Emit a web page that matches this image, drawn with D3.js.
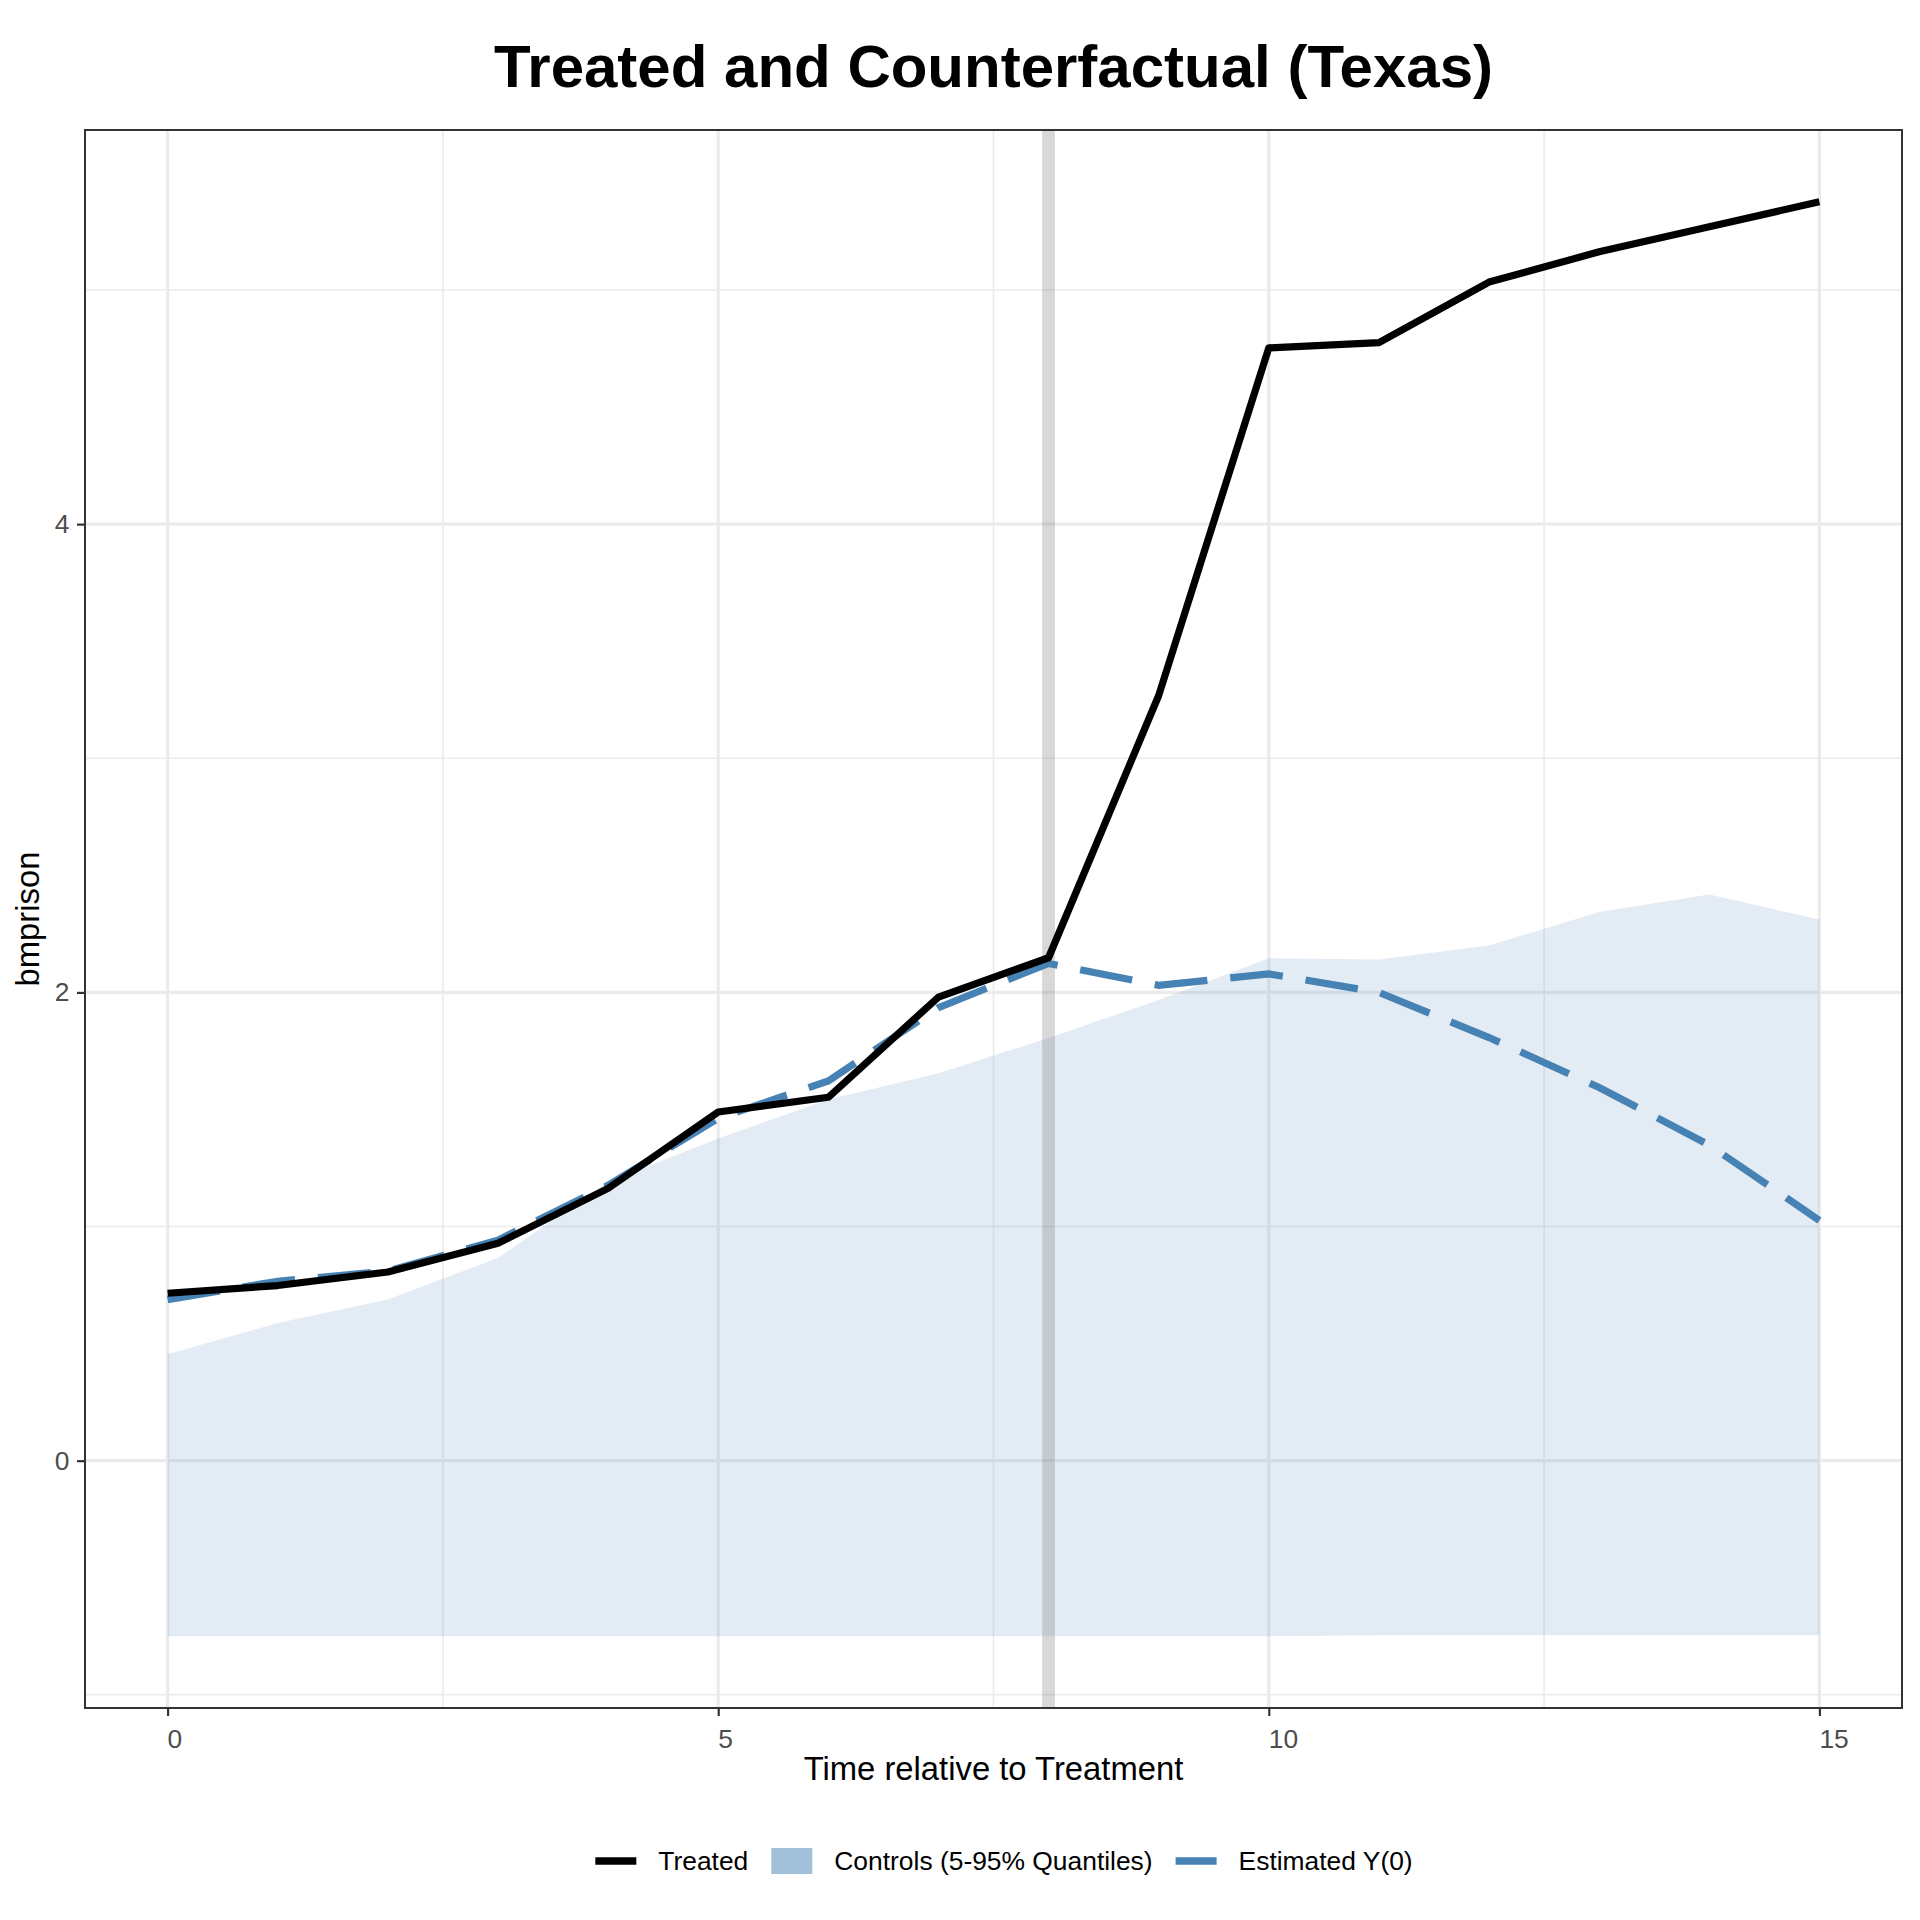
<!DOCTYPE html>
<html>
<head>
<meta charset="utf-8">
<script src="https://cdn.jsdelivr.net/npm/d3@7"></script>
<style>
    body { margin: 0; background: #fff; }
    text { font-family: 'Liberation Sans', Arial, sans-serif; }
</style>
</head>
<body>
<div id="chart"></div>
<script>
'use strict';

/*
Data
 */
const times = [0, 1, 2, 3, 4, 5, 6, 7, 8, 9, 10, 11, 12, 13, 14, 15];
const treated = [0.715, 0.748, 0.806, 0.929, 1.163, 1.489, 1.552, 1.980, 2.148, 3.268, 4.753, 4.775, 5.034, 5.163, 5.270, 5.377];
const estimatedY0 = [0.688, 0.766, 0.810, 0.942, 1.176, 1.462, 1.622, 1.935, 2.124, 2.030, 2.079, 2.000, 1.807, 1.594, 1.348, 1.026];
const controlsHigh = [0.455, 0.588, 0.688, 0.866, 1.190, 1.376, 1.543, 1.655, 1.805, 1.968, 2.146, 2.140, 2.200, 2.343, 2.418, 2.311];
const controlsLow = [-0.750, -0.750, -0.750, -0.750, -0.750, -0.750, -0.750, -0.750, -0.750, -0.750, -0.750, -0.746, -0.746, -0.746, -0.746, -0.746];
const treatmentTime = 8;
const xTicks = [0, 5, 10, 15];
const xMinorTicks = [2.5, 7.5, 12.5];
const yTicks = [0, 2, 4];
const yMinorTicks = [-1, 1, 3, 5];
const legendLabels = ['Treated', 'Controls (5-95% Quantiles)', 'Estimated Y(0)'];

/*
Chart
 */
class CounterfactualChart {

    // Configs
    svgW = 1920;
    svgH = 1920;
    panel = {left: 85, right: 1902, top: 130, bottom: 1708};
    blue = 'steelblue';
    lineW = 7.2;
    tickFont = '26.4px';
    titleFont = '32.8px';

    constructor(_target) {
        this.target = _target;
        this.init();
    }

    init() {
        const vis = this;

        vis.svg = d3.select(`#${vis.target}`)
            .append('svg')
            .attr('width', vis.svgW)
            .attr('height', vis.svgH);

        vis.rows = times.map((t, i) => ({
            t: t,
            treated: treated[i],
            est: estimatedY0[i],
            hi: controlsHigh[i],
            lo: controlsLow[i]
        }));

        // ggplot style 5% expansion
        const xExt = d3.extent(times);
        const xPad = (xExt[1] - xExt[0]) * 0.05;
        const yMin = d3.min(controlsLow);
        const yMax = d3.max([...treated, ...estimatedY0, ...controlsHigh]);
        const yPad = (yMax - yMin) * 0.05;

        vis.xScale = d3.scaleLinear()
            .domain([xExt[0] - xPad, xExt[1] + xPad])
            .range([vis.panel.left, vis.panel.right]);
        vis.yScale = d3.scaleLinear()
            .domain([yMin - yPad, yMax + yPad])
            .range([vis.panel.bottom, vis.panel.top]);

        vis.render();
    }

    render() {
        const vis = this;
        const p = vis.panel;
        const x = vis.xScale;
        const y = vis.yScale;

        // Grid
        const gridG = vis.svg.append('g').attr('class', 'grid');
        gridG.selectAll('.vMinor').data(xMinorTicks).join('line')
            .attr('x1', d => x(d)).attr('x2', d => x(d))
            .attr('y1', p.top).attr('y2', p.bottom)
            .attr('stroke', '#ebebeb').attr('stroke-width', 1.6);
        gridG.selectAll('.hMinor').data(yMinorTicks).join('line')
            .attr('x1', p.left).attr('x2', p.right)
            .attr('y1', d => y(d)).attr('y2', d => y(d))
            .attr('stroke', '#ebebeb').attr('stroke-width', 1.6);
        gridG.selectAll('.vMajor').data(xTicks).join('line')
            .attr('x1', d => x(d)).attr('x2', d => x(d))
            .attr('y1', p.top).attr('y2', p.bottom)
            .attr('stroke', '#ebebeb').attr('stroke-width', 3.2);
        gridG.selectAll('.hMajor').data(yTicks).join('line')
            .attr('x1', p.left).attr('x2', p.right)
            .attr('y1', d => y(d)).attr('y2', d => y(d))
            .attr('stroke', '#ebebeb').attr('stroke-width', 3.2);

        // Ribbon of controls
        const area = d3.area()
            .x(d => x(d.t))
            .y0(d => y(d.lo))
            .y1(d => y(d.hi));
        vis.svg.append('path')
            .datum(vis.rows)
            .attr('d', area)
            .attr('fill', vis.blue)
            .attr('fill-opacity', 0.15);

        // Treatment marker
        vis.svg.append('line')
            .attr('x1', x(treatmentTime)).attr('x2', x(treatmentTime))
            .attr('y1', p.top).attr('y2', p.bottom)
            .attr('stroke', '#7f7f7f')
            .attr('stroke-opacity', 0.3)
            .attr('stroke-width', 12.8);

        // Lines
        const estLine = d3.line().x(d => x(d.t)).y(d => y(d.est));
        const trLine = d3.line().x(d => x(d.t)).y(d => y(d.treated));
        vis.svg.append('path')
            .datum(vis.rows)
            .attr('d', estLine)
            .attr('fill', 'none')
            .attr('stroke', vis.blue)
            .attr('stroke-width', vis.lineW)
            .attr('stroke-dasharray', '53 23');
        vis.svg.append('path')
            .datum(vis.rows)
            .attr('d', trLine)
            .attr('fill', 'none')
            .attr('stroke', '#000')
            .attr('stroke-width', vis.lineW)
            .attr('stroke-linejoin', 'round');

        // Panel border
        vis.svg.append('rect')
            .attr('x', p.left).attr('y', p.top)
            .attr('width', p.right - p.left).attr('height', p.bottom - p.top)
            .attr('fill', 'none')
            .attr('stroke', '#333333')
            .attr('stroke-width', 2);

        // Axes
        const xAxisG = vis.svg.append('g')
            .attr('transform', `translate(0, ${p.bottom})`)
            .call(d3.axisBottom(x).tickValues(xTicks).tickFormat(d3.format('d'))
                .tickSize(8).tickPadding(13.2));
        const yAxisG = vis.svg.append('g')
            .attr('transform', `translate(${p.left}, 0)`)
            .call(d3.axisLeft(y).tickValues(yTicks).tickFormat(d3.format('d'))
                .tickSize(8).tickPadding(7.5));
        [xAxisG, yAxisG].forEach(g => {
            g.select('.domain').remove();
            g.selectAll('.tick line').attr('stroke', '#333333').attr('stroke-width', 2.2);
            g.selectAll('.tick text')
                .attr('fill', '#4d4d4d')
                .style('font-size', vis.tickFont)
                .style('font-family', "'Liberation Sans', Arial, sans-serif");
        });
        xAxisG.selectAll('.tick text').attr('text-anchor', 'start').attr('x', -0.5);

        // Titles
        const midX = (p.left + p.right) / 2;
        vis.svg.append('text')
            .attr('x', midX).attr('y', 86.7)
            .attr('text-anchor', 'middle')
            .style('font-size', '60px')
            .style('font-weight', 'bold')
            .text('Treated and Counterfactual (Texas)');
        vis.svg.append('text')
            .attr('x', midX).attr('y', 1780)
            .attr('text-anchor', 'middle')
            .style('font-size', vis.titleFont)
            .text('Time relative to Treatment');
        vis.svg.append('text')
            .attr('transform', `translate(38.5, ${(p.top + p.bottom) / 2}) rotate(-90)`)
            .attr('text-anchor', 'middle')
            .style('font-size', vis.titleFont)
            .text('bmprison');

        // Legend
        const legY = 1861;
        const keyW = 51;
        const legG = vis.svg.append('g');
        let cx = 0;
        legendLabels.forEach((label, i) => {
            if (i === 0 || i === 2) {
                legG.append('line')
                    .attr('x1', cx + 5).attr('x2', cx + keyW - 5)
                    .attr('y1', legY).attr('y2', legY)
                    .attr('stroke', i === 0 ? '#000' : vis.blue)
                    .attr('stroke-width', 7.7);
            } else {
                legG.append('rect')
                    .attr('x', cx + 5).attr('y', legY - 13)
                    .attr('width', keyW - 10).attr('height', 26)
                    .attr('fill', vis.blue)
                    .attr('fill-opacity', 0.5);
            }
            const txt = legG.append('text')
                .attr('x', cx + keyW + 17)
                .attr('y', legY)
                .attr('dy', '0.35em')
                .style('font-size', vis.tickFont)
                .text(label);
            cx += keyW + 17 + txt.node().getComputedTextLength() + 18;
        });
        const legW = cx - 18;
        legG.attr('transform', `translate(${1001.5 - legW / 2}, 0)`);
    }
}

new CounterfactualChart('chart');
</script>
</body>
</html>
